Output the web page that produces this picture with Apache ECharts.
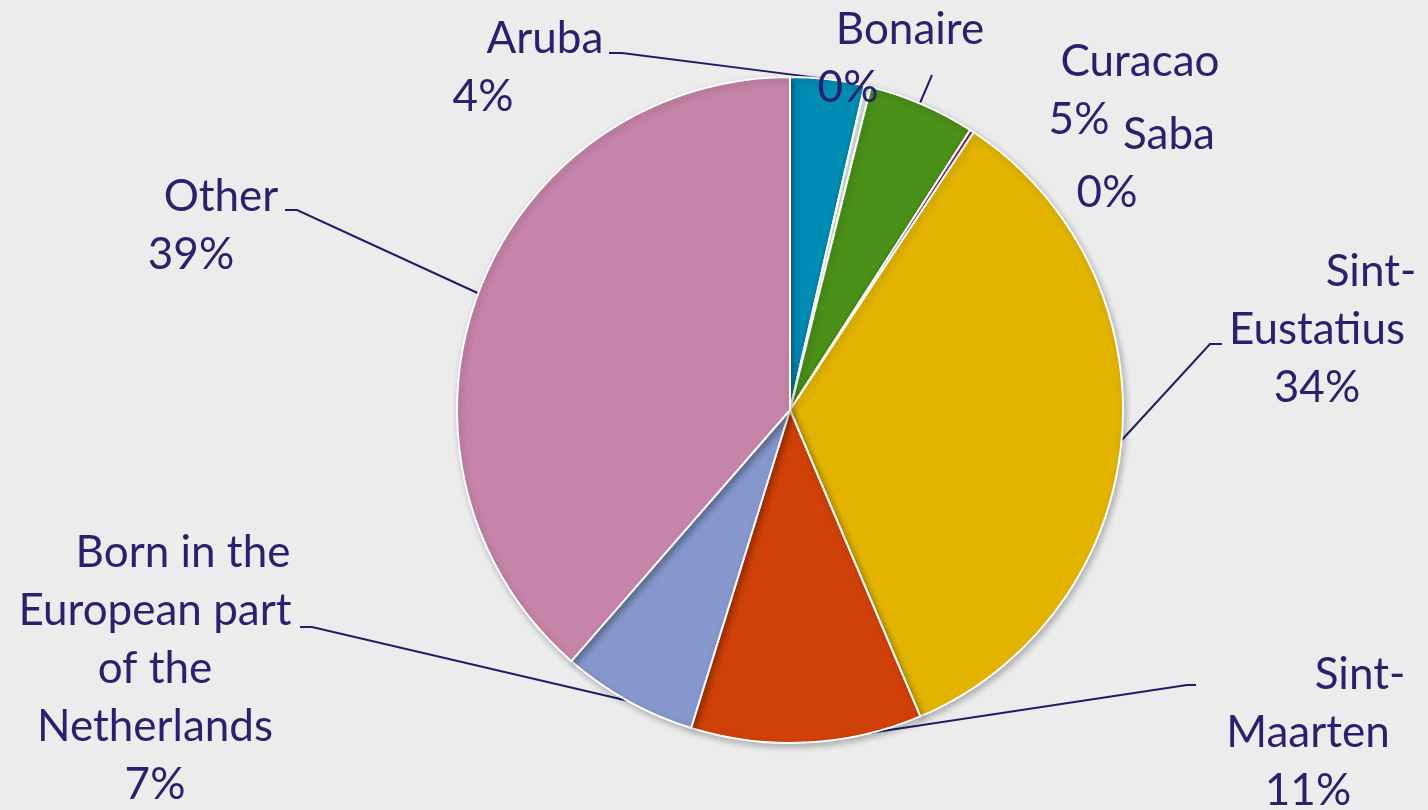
<!DOCTYPE html>
<html>
<head>
<meta charset="utf-8">
<script src="https://cdn.jsdelivr.net/npm/echarts@6/dist/echarts.min.js"></script>
<style>
  html, body { margin: 0; padding: 0; background: #ececec; }
  #main { width: 1428px; height: 810px; }
</style>
</head>
<body>
<div id="main"></div>
<script>
// data (share of population, %)
var categories = ['Aruba', 'Bonaire', 'Curacao', 'Saba', 'Sint-Eustatius', 'Sint-Maarten',
  'Born in the European part of the Netherlands', 'Other'];
var shares = [3.6, 0.3, 5.2, 0.2, 34.3, 11.2, 6.6, 38.6];
// how each label name is broken into lines
var labelNames = [['Aruba'], ['Bonaire'], ['Curacao'], ['Saba'], ['Sint-', 'Eustatius'],
  ['Sint-', 'Maarten'], ['Born in the', 'European part', 'of the', 'Netherlands'], ['Other']];
var colors = ['#008cb4', '#d9e9f0', '#4a9019', '#8c1a6c', '#e2b400', '#cf4108', '#8597cc', '#c584a8'];

// label placement: centre x, top y, padding of the first line, leader line points
var labelPlace = [
  { x: 483, y: 10, pad: 124, line: [[622, 53], [609, 53]] },
  { x: 848, y: 1, pad: 124, own: [[920, 103], [932, 75]] },
  { x: 1079, y: 33, pad: 122 },
  { x: 1107, y: 106, pad: 124 },
  { x: 1317, y: 243, pad: 108, line: [[1210, 344], [1222, 344]] },
  { x: 1308, y: 646, pad: 104, line: [[1187, 685], [1196, 685]] },
  { x: 155, y: 524, pad: 56, line: [[312, 627], [300, 627]] },
  { x: 191, y: 168, pad: 60, line: [[297, 210], [285, 210]] }
];

var textColor = '#2c1f6e';

var seriesData = categories.map(function (name, i) {
  var p = labelPlace[i];
  return {
    name: name,
    value: shares[i],
    itemStyle: { color: colors[i] },
    labelLine: { show: !!(p.line || p.own) },
    label: {
      rich: {
        a: { padding: [0, 0, 0, p.pad] }
      }
    }
  };
});

var myChart = echarts.init(document.getElementById('main'));

var option = {
  backgroundColor: '#ececec',
  animation: false,
  series: [{
    type: 'pie',
    center: [790, 410],
    radius: 333,
    startAngle: 90,
    clockwise: true,
    avoidLabelOverlap: false,
    data: seriesData,
    itemStyle: {
      borderColor: '#ffffff',
      borderWidth: 2,
      shadowColor: 'rgba(0,0,0,0.25)',
      shadowBlur: 6,
      shadowOffsetX: 2,
      shadowOffsetY: 3
    },
    label: {
      show: true,
      position: 'outside',
      color: textColor,
      fontFamily: 'Lato',
      fontSize: 44,
      lineHeight: 58,
      align: 'center',
      formatter: function (params) {
        var lines = labelNames[params.dataIndex];
        var out = [];
        lines.forEach(function (t, k) {
          out.push((k === 0 ? '{a|' : '{b|') + t + '}');
        });
        out.push('{p|' + Math.round(params.percent) + '%}');
        return out.join('\n');
      },
      rich: {
        a: { color: textColor, fontFamily: 'Lato', fontSize: 44, lineHeight: 58, align: 'center' },
        b: { color: textColor, fontFamily: 'Lato', fontSize: 44, lineHeight: 58, align: 'center' },
        p: { color: textColor, fontFamily: 'Lato', fontSize: 44, lineHeight: 58, align: 'center' }
      }
    },
    labelLine: {
      show: true,
      lineStyle: { color: '#241a6a', width: 2 }
    },
    labelLayout: function (params) {
      var p = labelPlace[params.dataIndex];
      var res = { x: p.x, y: p.y, align: 'center', verticalAlign: 'top' };
      if (p.line && params.labelLinePoints) {
        res.labelLinePoints = [params.labelLinePoints[0], p.line[0], p.line[1]];
      } else if (p.own) {
        res.labelLinePoints = p.own;
      }
      return res;
    }
  }]
};

myChart.setOption(option);

window.addEventListener('resize', function () {
  myChart.resize();
});
</script>
</body>
</html>
